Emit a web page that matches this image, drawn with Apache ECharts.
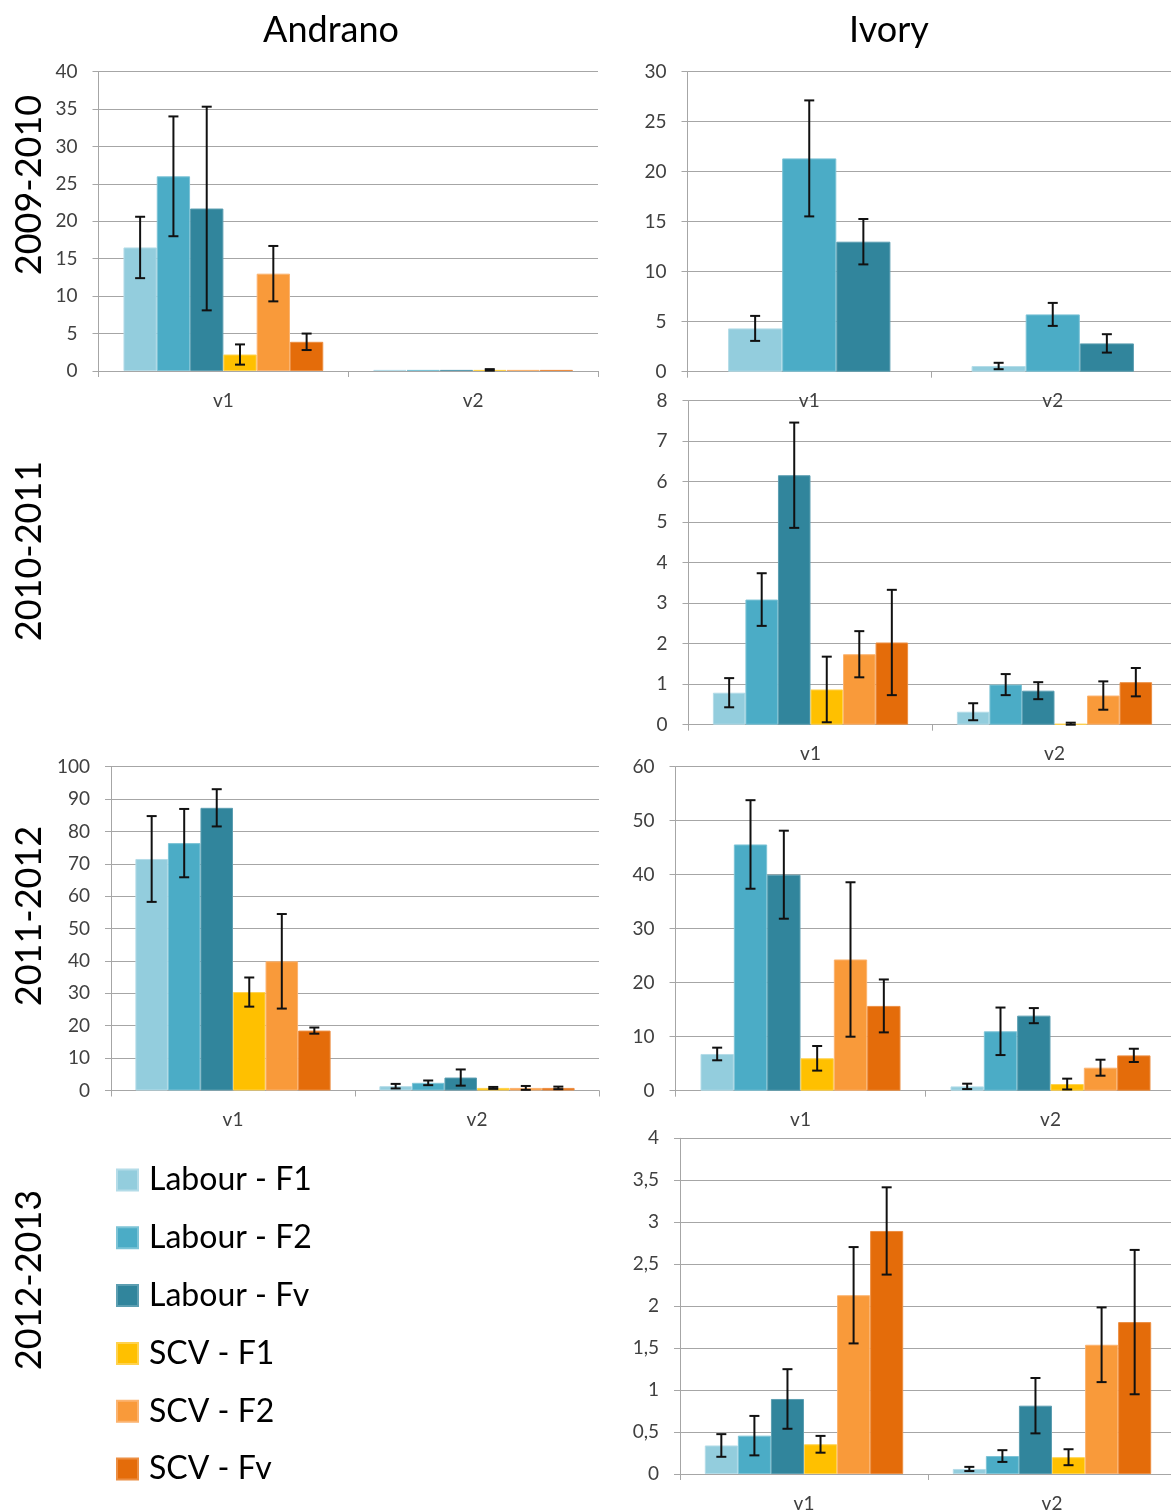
<!DOCTYPE html>
<html><head><meta charset="utf-8">
<script src="https://cdn.jsdelivr.net/npm/echarts@6/dist/echarts.min.js"></script>
<style>html,body{margin:0;padding:0;background:#fff}#c{width:1171px;height:1512px}</style>
</head><body><div id="c"></div>
<script>
// ---------- DATA ----------
const categories = ['v1', 'v2'];
const seriesNames = ['Labour - F1', 'Labour - F2', 'Labour - Fv', 'SCV - F1', 'SCV - F2', 'SCV - Fv'];
const columnTitles = ['Andrano', 'Ivory'];
const rowTitles = ['2009-2010', '2010-2011', '2011-2012', '2012-2013'];

// each inner array: [v1, v2] for one series, in seriesNames order
const andrano0910Mean = [[16.5, 0.15], [26.0, 0.15], [21.7, 0.15], [2.2, 0.15], [13.0, 0.15], [3.9, 0.15]];
const andrano0910Err  = [[4.1, 0], [8.0, 0], [13.6, 0], [1.35, 0.1], [3.7, 0], [1.1, 0]];

const ivory0910Mean = [[4.33, 0.57], [21.33, 5.73], [13.0, 2.83]];
const ivory0910Err  = [[1.25, 0.32], [5.8, 1.15], [2.27, 0.92]];

const ivory1011Mean = [[0.79, 0.32], [3.09, 0.99], [6.16, 0.84], [0.87, 0.02], [1.74, 0.72], [2.03, 1.05]];
const ivory1011Err  = [[0.36, 0.21], [0.65, 0.26], [1.3, 0.21], [0.81, 0.03], [0.57, 0.35], [1.3, 0.35]];

const andrano1112Mean = [[71.5, 1.34], [76.4, 2.37], [87.3, 4.0], [30.4, 0.8], [39.9, 0.8], [18.5, 0.8]];
const andrano1112Err  = [[13.25, 0.7], [10.55, 0.72], [5.75, 2.5], [4.5, 0.3], [14.6, 0.6], [0.95, 0.4]];

const ivory1112Mean = [[6.8, 0.8], [45.6, 11.0], [40.0, 13.9], [6.0, 1.23], [24.3, 4.26], [15.7, 6.54]];
const ivory1112Err  = [[1.17, 0.5], [8.2, 4.4], [8.15, 1.4], [2.28, 1.0], [14.3, 1.48], [4.9, 1.23]];

const ivory1213Mean = [[0.34, 0.06], [0.457, 0.214], [0.894, 0.814], [0.354, 0.2], [2.13, 1.54], [2.896, 1.81]];
const ivory1213Err  = [[0.135, 0.025], [0.235, 0.07], [0.355, 0.33], [0.1, 0.095], [0.574, 0.445], [0.52, 0.86]];

// axis scales [max, interval]
const andrano0910Axis = [40, 5];
const ivory0910Axis = [30, 5];
const ivory1011Axis = [8, 1];
const andrano1112Axis = [100, 10];
const ivory1112Axis = [60, 10];
const ivory1213Axis = [4, 0.5];

// ---------- STYLE / LAYOUT ----------
const colors = ['#93CDDD', '#4BACC6', '#31859C', '#FFC000', '#F99A3A', '#E46C0A'];
const borders = ['#B4DCE8', '#7CC3D6', '#5C9EB1', '#FFD24D', '#FBB36F', '#EC8E42'];
const FONT = 'Lato, "Open Sans", sans-serif';
const GRID_C = '#A6A6A6';
const TXT_C = '#404040';

const panels = [
  { mean: andrano0910Mean, err: andrano0910Err, axis: andrano0910Axis, pos: { left: 98.5, top: 71.5, width: 499.5, height: 299.5 } },
  { mean: ivory0910Mean,   err: ivory0910Err,   axis: ivory0910Axis,   pos: { left: 687.5, top: 71.7, width: 487, height: 300 } },
  { mean: ivory1011Mean,   err: ivory1011Err,   axis: ivory1011Axis,   pos: { left: 688.5, top: 400.7, width: 488, height: 324 } },
  { mean: andrano1112Mean, err: andrano1112Err, axis: andrano1112Axis, pos: { left: 111, top: 766.7, width: 488, height: 323.8 } },
  { mean: ivory1112Mean,   err: ivory1112Err,   axis: ivory1112Axis,   pos: { left: 675.5, top: 766.7, width: 500, height: 324 } },
  { mean: ivory1213Mean,   err: ivory1213Err,   axis: ivory1213Axis,   pos: { left: 680, top: 1138.3, width: 496, height: 335.7 }, comma: true }
];

const grid = [], xAxis = [], yAxis = [], series = [];

panels.forEach((p, gi) => {
  grid.push(Object.assign({ outerBoundsMode: 'none', containLabel: false }, p.pos));
  xAxis.push({
    gridIndex: gi, type: 'category', data: categories,
    axisLine: { show: true, lineStyle: { color: GRID_C, width: 1 } },
    axisTick: { show: true, length: 6, lineStyle: { color: GRID_C } },
    axisLabel: { fontSize: 19, color: TXT_C, fontFamily: FONT, margin: 20 },
    splitLine: { show: false }
  });
  yAxis.push({
    gridIndex: gi, type: 'value', min: 0, max: p.axis[0], interval: p.axis[1],
    axisLine: { show: true, lineStyle: { color: GRID_C, width: 1 } },
    axisTick: { show: true, length: 6, lineStyle: { color: GRID_C } },
    splitLine: { show: true, lineStyle: { color: GRID_C, width: 1 } },
    axisLabel: {
      fontSize: 19, color: TXT_C, fontFamily: FONT, margin: 21,
      formatter: p.comma ? (v => String(v).replace('.', ',')) : (v => String(v))
    }
  });
  const n = p.mean.length;
  const gapPct = (1.5 / (n + 1.5) * 100).toFixed(3) + '%';
  const errData = [];
  p.mean.forEach((vals, si) => {
    series.push({
      type: 'bar', name: seriesNames[si], xAxisIndex: gi, yAxisIndex: gi,
      data: vals, barGap: '0%', barCategoryGap: gapPct,
      itemStyle: { color: colors[si], borderColor: borders[si], borderWidth: 1 },
      emphasis: { disabled: true }, z: 2
    });
    vals.forEach((v, ci) => {
      const e = p.err[si][ci];
      if (e > 0) errData.push([ci, Math.max(0, v - e), v + e, si, n]);
    });
  });
  series.push({
    type: 'custom', xAxisIndex: gi, yAxisIndex: gi, data: errData, z: 5, silent: true,
    renderItem: function (params, api) {
      const ci = api.value(0), lo = api.value(1), hi = api.value(2), si = api.value(3), nn = api.value(4);
      const catW = api.size([1, 0])[0];
      const bw = catW / (nn + 1.5);
      const cx = api.coord([ci, 0])[0] + (si - (nn - 1) / 2) * bw;
      const yLo = api.coord([ci, lo])[1];
      const yHi = api.coord([ci, hi])[1];
      const cap = 5;
      const st = { stroke: '#111', lineWidth: 2 };
      return {
        type: 'group', children: [
          { type: 'line', shape: { x1: cx, y1: yLo, x2: cx, y2: yHi }, style: st },
          { type: 'line', shape: { x1: cx - cap, y1: yHi, x2: cx + cap, y2: yHi }, style: st },
          { type: 'line', shape: { x1: cx - cap, y1: yLo, x2: cx + cap, y2: yLo }, style: st }
        ]
      };
    }
  });
});

const graphic = [
  { type: 'text', x: 331, y: 30, style: { text: columnTitles[0], fontSize: 36, fontFamily: FONT, fill: '#000', textAlign: 'center', textVerticalAlign: 'middle' } },
  { type: 'text', x: 889, y: 30, style: { text: columnTitles[1], fontSize: 36, fontFamily: FONT, fill: '#000', textAlign: 'center', textVerticalAlign: 'middle' } }
];
const rowCenters = [185, 551, 916, 1280];
rowTitles.forEach((t, i) => {
  graphic.push({
    type: 'text', x: 29, y: rowCenters[i], rotation: Math.PI / 2,
    style: { text: t, fontSize: 36, fontFamily: FONT, fill: '#000', textAlign: 'center', textVerticalAlign: 'middle' }
  });
});

const option = {
  animation: false,
  backgroundColor: '#fff',
  grid, xAxis, yAxis, series, graphic,
  legend: {
    show: true, orient: 'vertical', left: 116, top: 1164, padding: 0,
    data: seriesNames, icon: 'rect', itemWidth: 21, itemHeight: 21, itemGap: 25.8,
    selectedMode: false,
    textStyle: { fontSize: 32, fontFamily: FONT, color: '#000', padding: [0, 0, 0, 6] }
  }
};

const chart = echarts.init(document.getElementById('c'), null, { renderer: 'canvas' });
chart.setOption(option);
</script>
</body></html>
